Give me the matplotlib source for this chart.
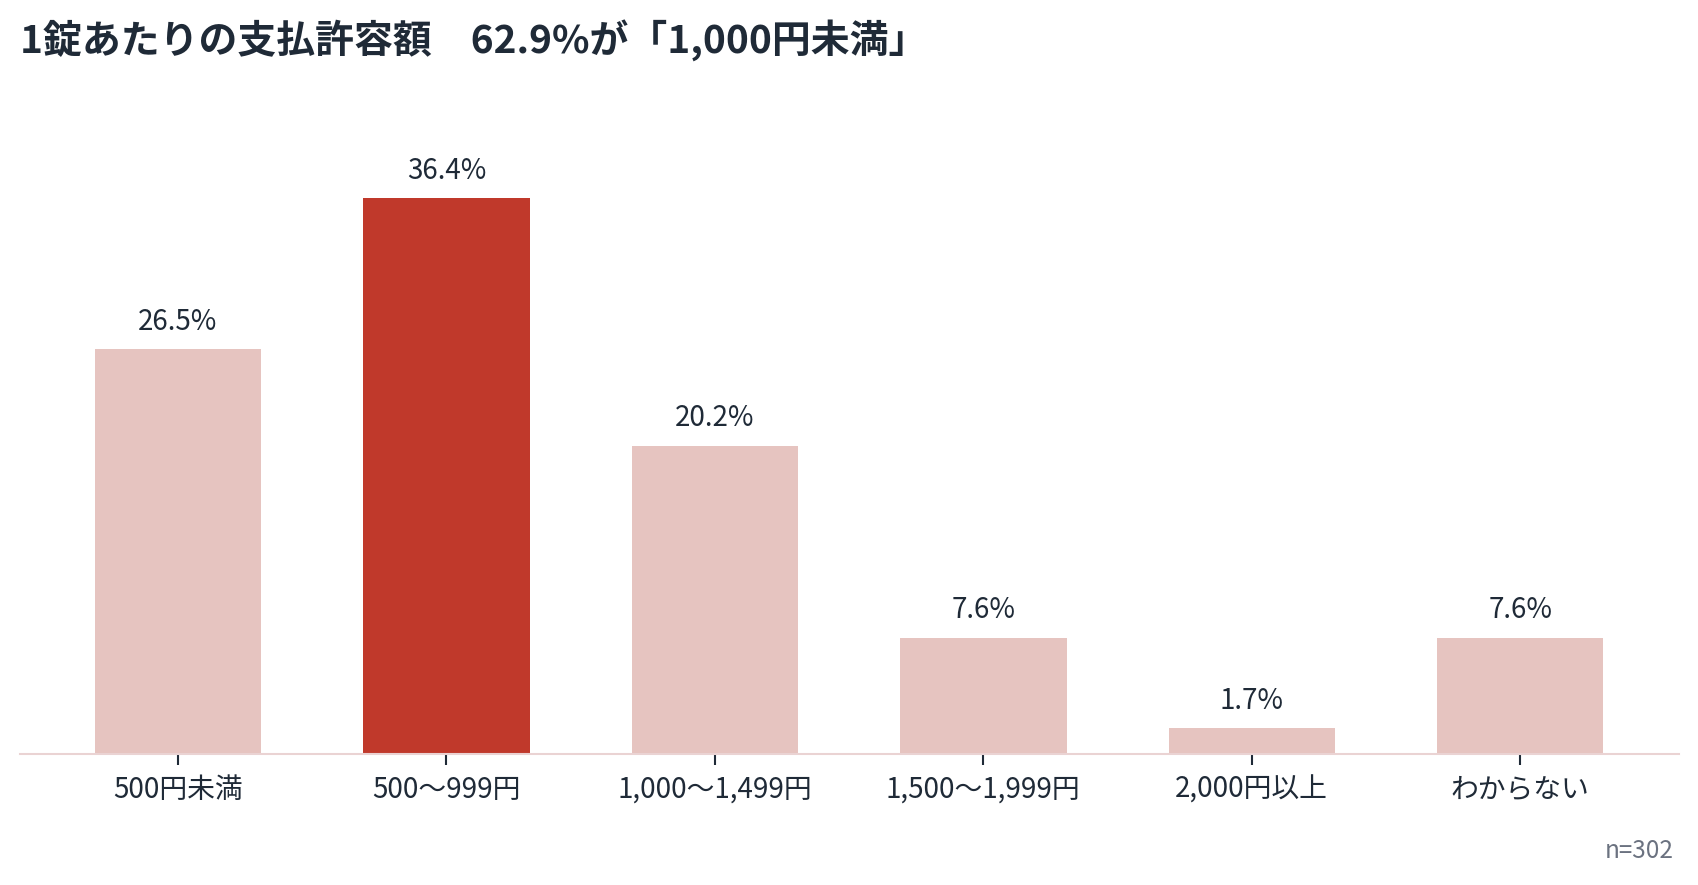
import matplotlib
matplotlib.use("Agg")
import matplotlib.pyplot as plt

plt.rcParams['font.family'] = ['Noto Sans CJK JP', 'DejaVu Sans']

# data
categories = ["500円未満", "500〜999円", "1,000〜1,499円", "1,500〜1,999円", "2,000円以上", "わからない"]
shares = [26.5, 36.4, 20.2, 7.6, 1.7, 7.6]
highlight = "500〜999円"
title = "1錠あたりの支払許容額\u300062.9%が「1,000円未満」"
note = "n=302"

TEXT_DARK = "#1f2a37"
RED = "#c0392b"
PINK = "#e6c4c0"

fig = plt.figure(figsize=(16.99, 8.85), dpi=100)
ax = fig.add_axes([0.0115, 0.148, 0.9765, 0.69])

colors = [RED if c == highlight else PINK for c in categories]
x = range(len(categories))
bars = ax.bar(x, shares, width=0.62, color=colors, zorder=2)

# value labels above bars
for rect, v in zip(bars, shares):
    ax.annotate(f"{v}%", (rect.get_x() + rect.get_width() / 2, v),
                xytext=(0, 9), textcoords="offset points",
                ha="center", va="bottom", fontsize=20, color=TEXT_DARK)

ax.set_xlim(-0.59, len(categories) - 1 + 0.59)
ax.set_ylim(0, 40)
ax.set_xticks(list(x))
ax.set_xticklabels(categories, fontsize=20, color=TEXT_DARK)
ax.tick_params(axis="x", length=8, width=1.5, color=TEXT_DARK, pad=7)
ax.set_yticks([])
for side in ["top", "right", "left"]:
    ax.spines[side].set_visible(False)
ax.spines["bottom"].set_color("#ead3d3")
ax.spines["bottom"].set_linewidth(1.5)

fig.text(0.012, 0.954, title, fontsize=28, fontweight="bold",
         color=TEXT_DARK, ha="left", va="center")
fig.text(0.985, 0.038, note, fontsize=17.5, color="#6b7280",
         ha="right", va="center")

fig.savefig("out.png", dpi=100)
